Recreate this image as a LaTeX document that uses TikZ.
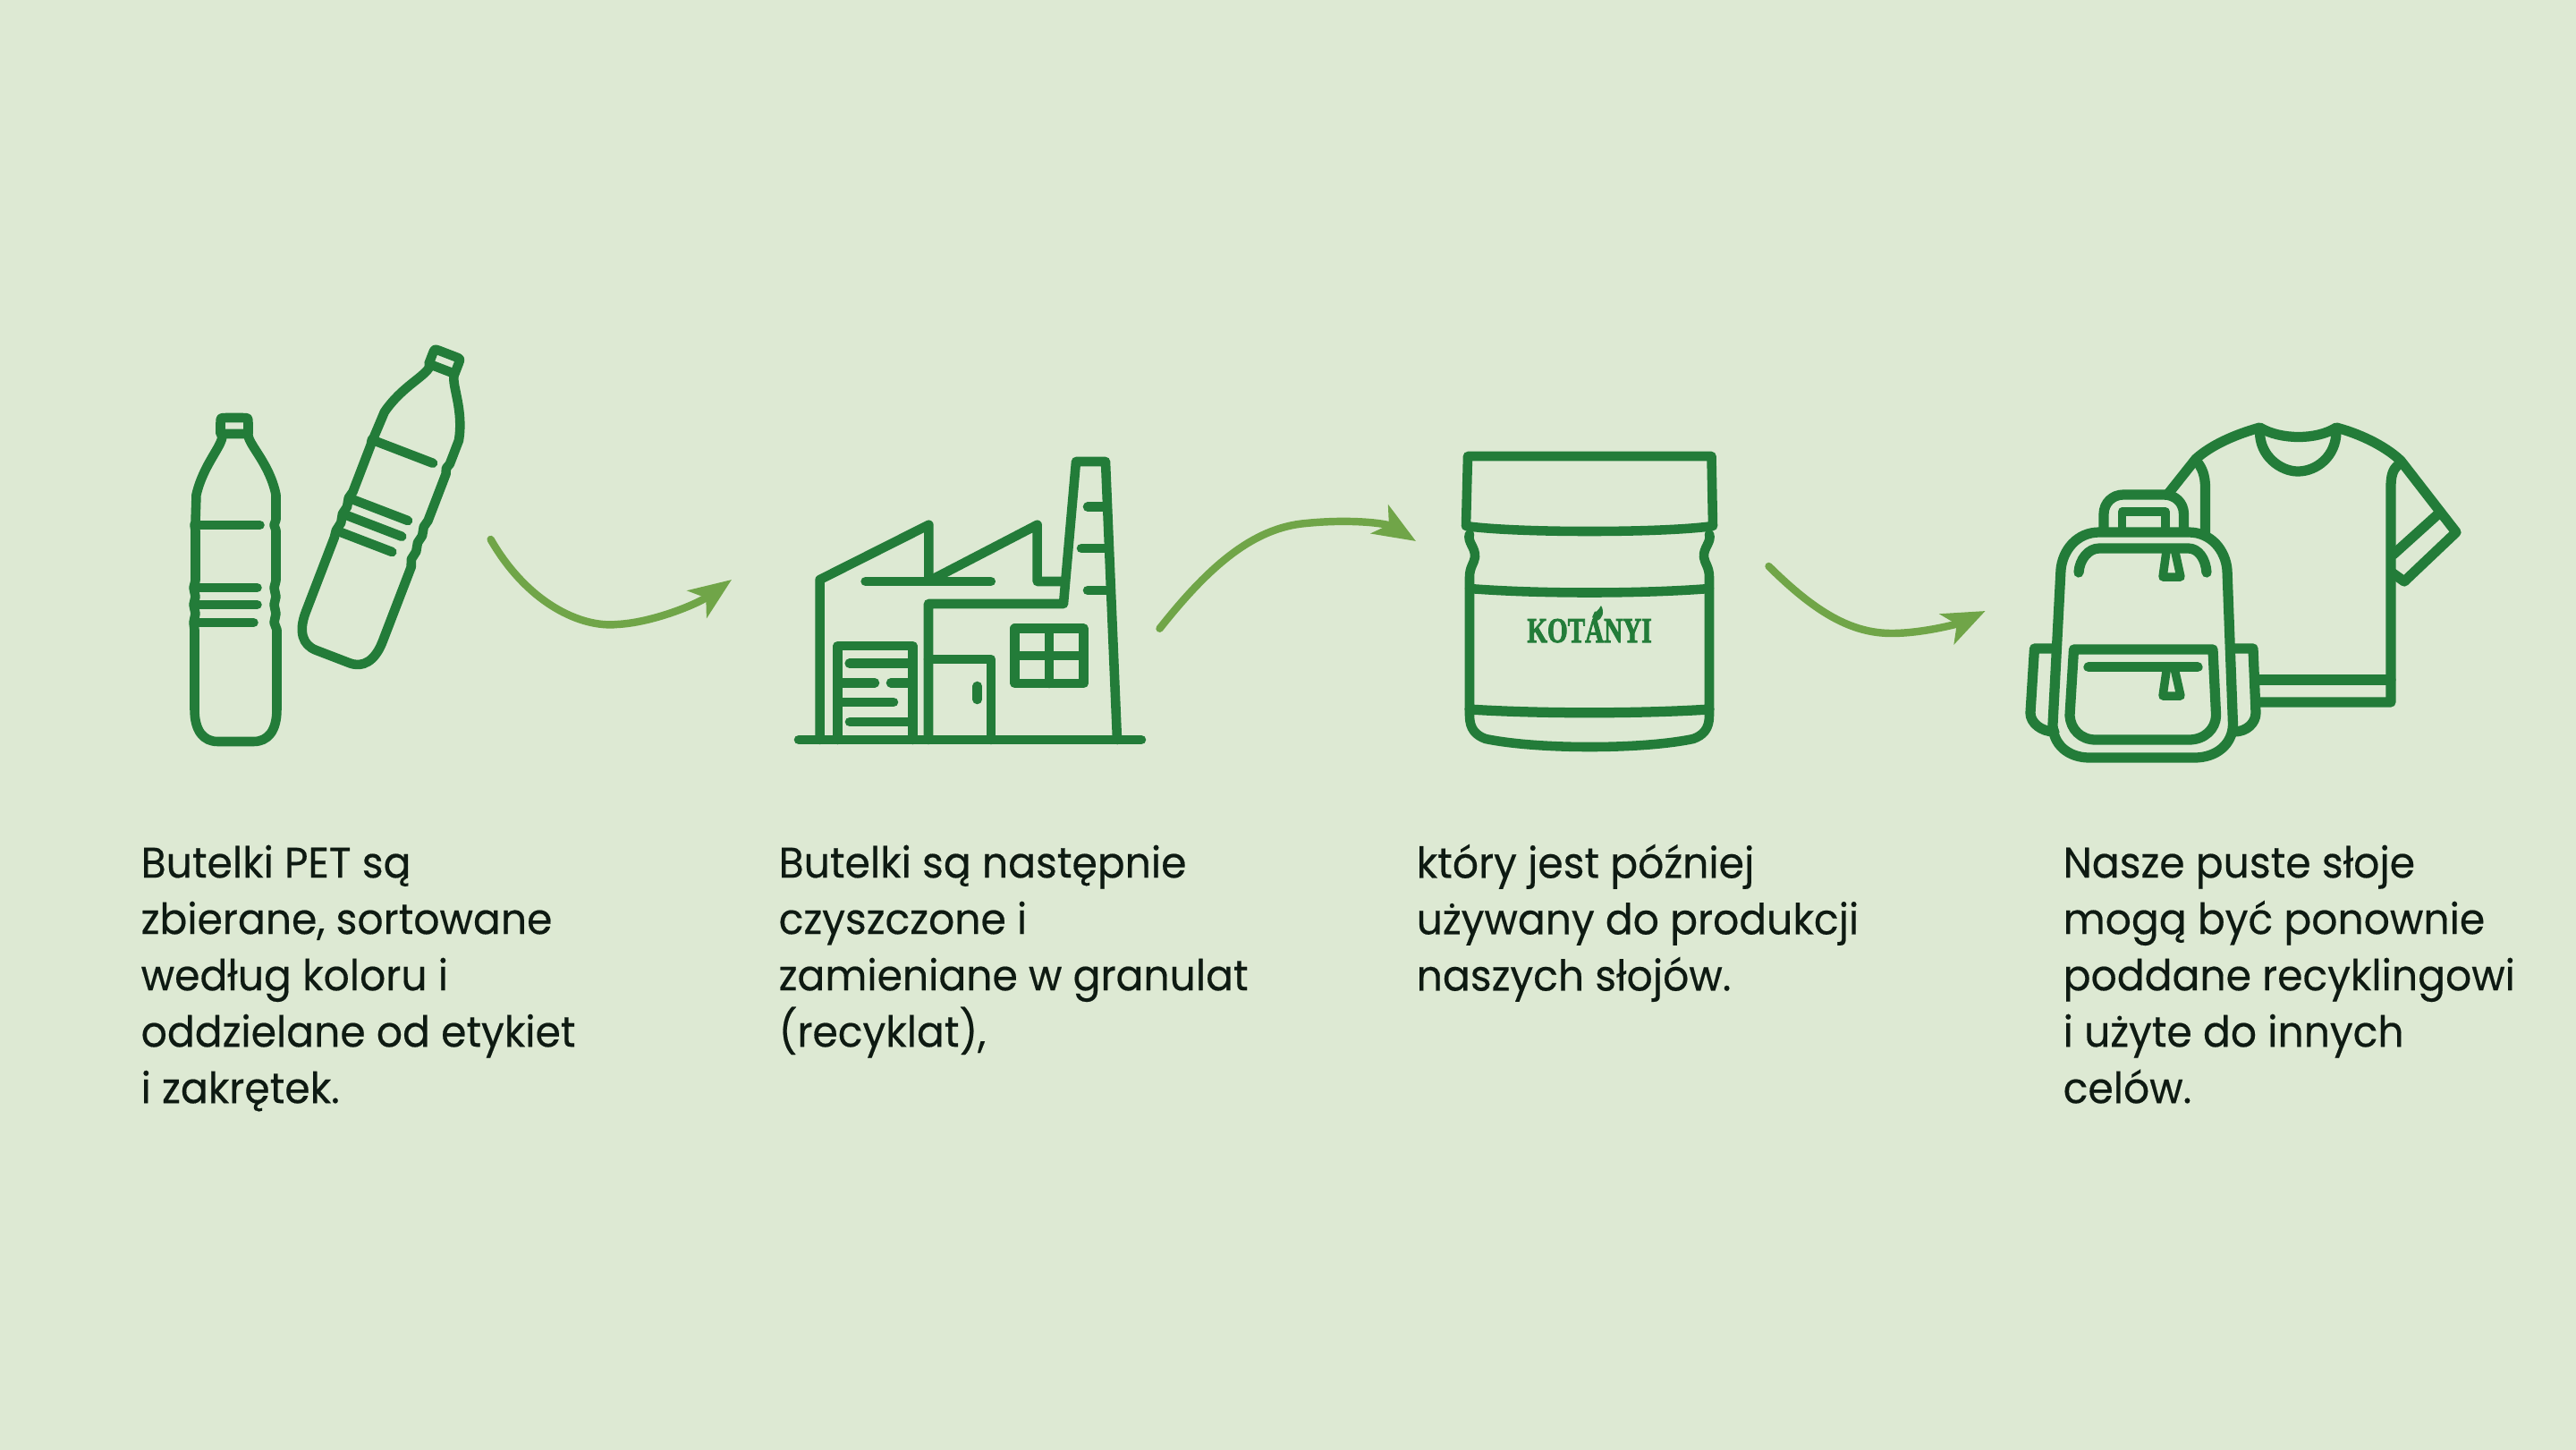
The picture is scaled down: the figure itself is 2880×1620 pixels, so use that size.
\documentclass[tikz,border=0pt]{standalone}
\usepackage{fontspec}
\usetikzlibrary{arrows.meta}
\setmainfont[FakeStretch=0.955,FakeBold=0.35]{Poppins}
\newfontfamily\logofont[BoldFeatures={FakeBold=2.5}]{Liberation Serif}
\definecolor{bgc}{HTML}{DDE9D3}
\definecolor{icon}{HTML}{237C39}
\definecolor{arr}{HTML}{70A548}
\definecolor{ink}{HTML}{0E1A12}
\tikzset{
  ic/.style={draw=icon,line width=3pt,line cap=round,line join=round},
  flow/.style={draw=arr,line width=2.4pt,line cap=round,-{Stealth[length=13.4pt,width=10.5pt,inset=3.4pt]}},
  para/.style={anchor=north west,inner sep=0pt,text=ink,align=left,font=\fontsize{13.6pt}{17.92pt}\selectfont},
}
\newcommand{\mybottle}{%
  % relative to bottom centre
  \draw[ic] (-11,-362) -- (8,-362) .. controls (14,-362) and (14,-362) .. (14,-356) -- (14,-344) -- (-17,-344) -- (-17,-356) .. controls (-17,-362) and (-17,-362) .. (-11,-362) -- cycle;
  \draw[ic] (-15,-342) .. controls (-15,-330) and (-36,-310) .. (-44,-276) -- (-45,-245) -- (-46,-242) -- (-45,-236) -- (-45,-180) -- (-47,-172) -- (-45,-162) -- (-47,-153) -- (-45,-143) -- (-47,-133) -- (-46,-125) -- (-46,-36) .. controls (-46,-12) and (-36,0) .. (-20,0) -- (20,0) .. controls (36,0) and (46,-12) .. (46,-36) -- (46,-125) -- (43,-133) -- (45,-143) -- (43,-153) -- (45,-162) -- (43,-172) -- (45,-180) -- (45,-236) -- (43,-242) -- (45,-248) -- (45,-276) .. controls (38,-310) and (16,-330) .. (14,-342);
  \draw[ic] (-45,-242) -- (27,-242);
  \draw[ic] (-45,-172) -- (24,-172);
  \draw[ic] (-45,-153) -- (24,-153);
  \draw[ic] (-45,-133) -- (20,-133);
}
\begin{document}
\begin{tikzpicture}[x=0.01cm,y=-0.01cm]
\useasboundingbox (0,0) rectangle (2880,1620);
\fill[bgc] (-10,-10) rectangle (2890,1630);
% bottles
\begin{scope}[shift={(263.5,829)}]\mybottle\end{scope}
\begin{scope}[shift={(372,734)},rotate=-21]\mybottle\end{scope}
% factory
\draw[ic] (893,827) -- (1276,827);
\draw[ic] (916.6,827) -- (916.6,648) -- (1038.4,586.7) -- (1038.4,648);
\draw[ic] (1041.7,648) -- (1159.7,586.7) -- (1159.7,650) -- (1190,650);
\draw[ic] (967.6,650) -- (1107.8,650);
\draw[ic] (1038,827) -- (1038,675) -- (1189,675) -- (1203,516) -- (1236,516) -- (1249,827);
\draw[ic] (1216,566.7) -- (1236,566.7);
\draw[ic] (1209,613) -- (1238,613);
\draw[ic] (1216,660) -- (1241,660);
\draw[ic] (1038,737) -- (1108,737) -- (1108,827);
\draw[ic] (1092.7,767) -- (1092.7,782);
\draw[ic] (1134.6,702.7) rectangle (1211.6,764);
\draw[ic] (1173,702.7) -- (1173,764);
\draw[ic] (1134.6,733) -- (1211.6,733);
\draw[ic] (936.5,827) -- (936.5,722) -- (1020.5,722) -- (1020.5,827);
\draw[ic] (949.7,741.7) -- (1020,741.7);
\draw[ic] (936.5,763.3) -- (978,763.3);
\draw[ic] (996,763.3) -- (1020,763.3);
\draw[ic] (936.5,785) -- (999,785);
\draw[ic] (950,807) -- (1020,807);
% jar
\draw[ic] (1639,588) -- (1641,510) -- (1913.5,510) -- (1915,588) .. controls (1860,596) and (1694,596) .. (1639,588) -- cycle;
\draw[ic] (1643,597) .. controls (1640,606) and (1650,612) .. (1649,623) .. controls (1648,630) and (1643,634) .. (1643,645) -- (1643,800) .. controls (1643,815) and (1650,822) .. (1661,826) .. controls (1720,838) and (1835,838) .. (1893,826) .. controls (1904,822) and (1911,815) .. (1911,800) -- (1911,645) .. controls (1911,634) and (1906,630) .. (1905,623) .. controls (1904,612) and (1914,606) .. (1911,597);
\draw[ic] (1643,658) .. controls (1720,664) and (1834,664) .. (1911,658);
\draw[ic,line width=3.2pt] (1643,793) .. controls (1720,798) and (1834,798) .. (1911,793);
\node[anchor=base,inner sep=0pt,text=icon,xscale=0.74] (logo) at (1777,718) {\fontsize{11.2pt}{11.2pt}\logofont\bfseries KOTÁNYI};
\fill[icon] (1781,693) .. controls (1781,685) and (1788,682) .. (1790,677) .. controls (1794,684) and (1792,692) .. (1785,694) -- cycle;
% shirt
\begin{scope}[ic/.append style={line width=3.2pt}]
\draw[ic] (2424,552) -- (2455,513) .. controls (2475,495) and (2505,484) .. (2526.5,478) .. controls (2550,492) and (2590,492) .. (2612,478) .. controls (2635,484) and (2665,497) .. (2684,515) -- (2746,595) -- (2688,650) -- (2674,640);
\draw[ic] (2526.5,482) .. controls (2526,510) and (2550,527) .. (2569,527) .. controls (2590,527) and (2612,510) .. (2612,482);
\draw[ic] (2455,515) .. controls (2462,522) and (2465.5,532) .. (2465.5,545) -- (2465.5,597);
\draw[ic] (2681,520) .. controls (2675,525) and (2673,532) .. (2673,545) -- (2673,785) -- (2522,785);
\draw[ic] (2725.5,575) -- (2675.6,620);
\draw[ic] (2522,760) -- (2673,760);
% backpack
\draw[ic] (2347,595) -- (2447,595) .. controls (2472,595) and (2488,615) .. (2490,637) -- (2496.5,810) .. controls (2496,832) and (2478,847) .. (2453.5,847) -- (2336,847) .. controls (2312,847) and (2295,832) .. (2295,810) -- (2304,637) .. controls (2306,615) and (2322,595) .. (2347,595) -- cycle;
\draw[ic] (2352,592) -- (2352,575) .. controls (2352,562) and (2362,553) .. (2374,553) -- (2419,553) .. controls (2432,553) and (2441.5,562) .. (2441.5,575) -- (2441.5,592);
\draw[ic,line width=2.7pt] (2372.6,590) -- (2372.6,572) -- (2421,572) -- (2421,590);
\draw[ic] (2324,640) .. controls (2325,625) and (2335,613) .. (2347,613) -- (2446.6,613) .. controls (2458,613) and (2466,625) .. (2467,640);
\draw[ic,line width=2.7pt] (2422.5,613) -- (2418,645) -- (2438,645) -- (2431,613);
\draw[ic] (2318.5,726) -- (2474,726) -- (2477.6,800) .. controls (2477,815) and (2465,827) .. (2447,827) -- (2343,827) .. controls (2326,827) and (2315,815) .. (2314,800) -- cycle;
\draw[ic] (2335,745.7) -- (2457,745.7);
\draw[ic,line width=2.7pt] (2422.5,747) -- (2418,778) -- (2438,778) -- (2431,747);
\draw[ic] (2297,725) -- (2274.5,725) -- (2270,797) .. controls (2270,808) and (2282,818) .. (2297,818);
\draw[ic] (2496.5,725) -- (2519,725) -- (2522,797) .. controls (2522,808) and (2512,818) .. (2498,818);
\end{scope}
% arrows
\coordinate (a1s) at (548.6,603);
\coordinate (a1e) at (818,648);
\coordinate (a2s) at (1296.5,702.7);
\coordinate (a2e) at (1583,605);
\coordinate (a3s) at (1977.5,633);
\coordinate (a3e) at (2219.6,683);
\draw[flow] (a1s) .. controls (590,675) and (650,702) .. (690,698) .. controls (730,696) and (780,675) .. (a1e);
\draw[flow] (a2s) .. controls (1350,635) and (1400,590) .. (1460,585) .. controls (1510,580) and (1550,585) .. (a2e);
\draw[flow] (a3s) .. controls (2030,685) and (2070,708) .. (2115,708) .. controls (2150,708) and (2190,697) .. (a3e);
% texts
\node[para] (t1) at (157,943) {\vphantom{ź}Butelki PET są\\zbierane, sortowane\\według koloru i\\oddzielane od etykiet\\i zakrętek.};
\node[para] (t2) at (870,943) {\vphantom{ź}Butelki są następnie\\czyszczone i\\zamieniane w granulat\\(recyklat),};
\node[para] (t3) at (1583,943) {\vphantom{ź}który jest później\\używany do produkcji\\naszych słojów.};
\node[para] (t4) at (2306,943) {\vphantom{ź}Nasze puste słoje\\mogą być ponownie\\poddane recyklingowi\\i użyte do innych\\celów.};
\end{tikzpicture}
\end{document}
